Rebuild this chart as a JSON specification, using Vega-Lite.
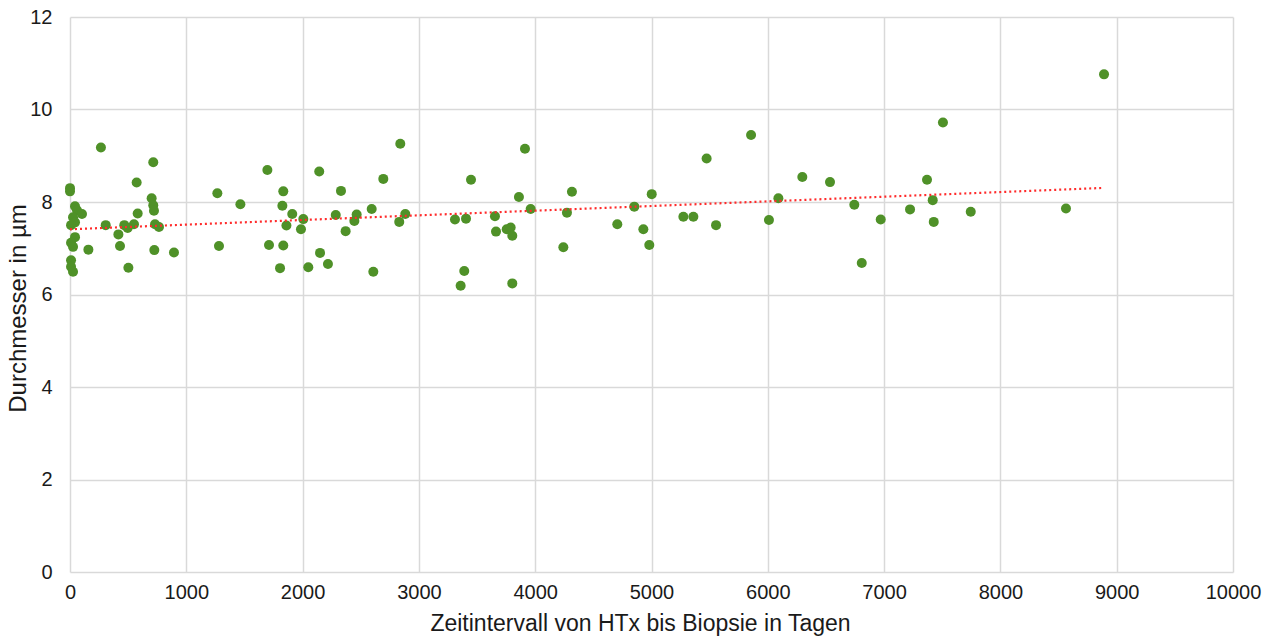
{
  "$schema": "https://vega.github.io/schema/vega-lite/v6.json",
  "autosize": "none",
  "width": 1163,
  "height": 555,
  "padding": {"left": 70, "top": 17, "right": 44, "bottom": 67},
  "background": "white",
  "config": {
    "view": {"stroke": null},
    "font": "Liberation Sans",
    "axis": {
      "labelFont": "Liberation Sans",
      "titleFont": "Liberation Sans",
      "labelColor": "#1a1a1a",
      "titleColor": "#1a1a1a",
      "titleFontWeight": "normal",
      "gridColor": "#d9d9d9",
      "gridWidth": 1.5,
      "domain": false,
      "ticks": false
    }
  },
  "data": {
    "values": [
      {"tage": 0, "d": 8.30}, {"tage": 0, "d": 8.23}, {"tage": 43, "d": 7.91}, {"tage": 60, "d": 7.82},
      {"tage": 103, "d": 7.74}, {"tage": 26, "d": 7.67}, {"tage": 43, "d": 7.56}, {"tage": 9, "d": 7.50},
      {"tage": 43, "d": 7.24}, {"tage": 9, "d": 7.12}, {"tage": 26, "d": 7.03}, {"tage": 9, "d": 6.74},
      {"tage": 9, "d": 6.60}, {"tage": 26, "d": 6.49},
      {"tage": 266, "d": 9.18}, {"tage": 716, "d": 8.86}, {"tage": 573, "d": 8.42}, {"tage": 702, "d": 8.08},
      {"tage": 716, "d": 7.93}, {"tage": 722, "d": 7.81}, {"tage": 582, "d": 7.75}, {"tage": 307, "d": 7.50},
      {"tage": 467, "d": 7.50}, {"tage": 550, "d": 7.52}, {"tage": 496, "d": 7.44}, {"tage": 731, "d": 7.52},
      {"tage": 765, "d": 7.46}, {"tage": 416, "d": 7.30}, {"tage": 430, "d": 7.05}, {"tage": 158, "d": 6.97},
      {"tage": 725, "d": 6.96}, {"tage": 894, "d": 6.91}, {"tage": 502, "d": 6.58},
      {"tage": 1267, "d": 8.19}, {"tage": 1465, "d": 7.95}, {"tage": 1281, "d": 7.05},
      {"tage": 1697, "d": 8.69}, {"tage": 1834, "d": 8.23}, {"tage": 1826, "d": 7.92}, {"tage": 1911, "d": 7.74},
      {"tage": 2006, "d": 7.63}, {"tage": 1861, "d": 7.49}, {"tage": 1986, "d": 7.41}, {"tage": 1711, "d": 7.07},
      {"tage": 1834, "d": 7.06}, {"tage": 1806, "d": 6.57}, {"tage": 2049, "d": 6.59},
      {"tage": 2143, "d": 8.66}, {"tage": 2330, "d": 8.24}, {"tage": 2285, "d": 7.72}, {"tage": 2465, "d": 7.73},
      {"tage": 2445, "d": 7.59}, {"tage": 2370, "d": 7.37}, {"tage": 2150, "d": 6.90}, {"tage": 2218, "d": 6.66},
      {"tage": 2608, "d": 6.49}, {"tage": 2694, "d": 8.50}, {"tage": 2840, "d": 9.26}, {"tage": 2594, "d": 7.85},
      {"tage": 2883, "d": 7.74}, {"tage": 2831, "d": 7.57},
      {"tage": 3310, "d": 7.62}, {"tage": 3405, "d": 7.64}, {"tage": 3448, "d": 8.48}, {"tage": 3654, "d": 7.69},
      {"tage": 3663, "d": 7.36}, {"tage": 3390, "d": 6.51}, {"tage": 3359, "d": 6.19},
      {"tage": 3912, "d": 9.15}, {"tage": 3860, "d": 8.11}, {"tage": 3961, "d": 7.85}, {"tage": 3755, "d": 7.41},
      {"tage": 3789, "d": 7.45}, {"tage": 3803, "d": 7.27}, {"tage": 3803, "d": 6.24},
      {"tage": 4316, "d": 8.22}, {"tage": 4273, "d": 7.77}, {"tage": 4242, "d": 7.02}, {"tage": 4706, "d": 7.52},
      {"tage": 4852, "d": 7.90}, {"tage": 4930, "d": 7.41}, {"tage": 4981, "d": 7.07}, {"tage": 5002, "d": 8.17},
      {"tage": 5474, "d": 8.94}, {"tage": 5274, "d": 7.68}, {"tage": 5360, "d": 7.68}, {"tage": 5555, "d": 7.50},
      {"tage": 5856, "d": 9.45}, {"tage": 6091, "d": 8.08}, {"tage": 6010, "d": 7.61}, {"tage": 6297, "d": 8.54},
      {"tage": 6535, "d": 8.43}, {"tage": 6744, "d": 7.94}, {"tage": 6808, "d": 6.68}, {"tage": 6971, "d": 7.62},
      {"tage": 7223, "d": 7.84}, {"tage": 7369, "d": 8.48}, {"tage": 7506, "d": 9.72}, {"tage": 7418, "d": 8.04},
      {"tage": 7427, "d": 7.57}, {"tage": 7745, "d": 7.79},
      {"tage": 8891, "d": 10.76}, {"tage": 8564, "d": 7.86}
    ]
  },
  "layer": [
    {
      "mark": {"type": "point", "filled": true, "opacity": 1, "size": 100, "color": "#4f9128"},
      "encoding": {
        "x": {
          "field": "tage", "type": "quantitative",
          "scale": {"domain": [0, 10000], "nice": false, "zero": true},
          "axis": {
            "values": [0, 1000, 2000, 3000, 4000, 5000, 6000, 7000, 8000, 9000, 10000],
            "format": "d",
            "labelFlush": false,
            "title": "Zeitintervall von HTx bis Biopsie in Tagen",
            "labelFontSize": 20, "titleFontSize": 23,
            "labelPadding": 10, "titlePadding": 10,
            "titleX": 570
          }
        },
        "y": {
          "field": "d", "type": "quantitative",
          "scale": {"domain": [0, 12], "nice": false},
          "axis": {
            "values": [0, 2, 4, 6, 8, 10, 12],
            "title": "Durchmesser in µm",
            "labelFontSize": 20, "titleFontSize": 24,
            "labelPadding": 18, "titlePadding": -1,
            "titleY": 291
          }
        }
      }
    },
    {
      "transform": [{"regression": "d", "on": "tage", "extent": [0, 8891]}],
      "mark": {"type": "line", "color": "#ff2b2b", "strokeWidth": 2.2, "strokeDash": [2, 3]},
      "encoding": {
        "x": {"field": "tage", "type": "quantitative"},
        "y": {"field": "d", "type": "quantitative"}
      }
    }
  ]
}
